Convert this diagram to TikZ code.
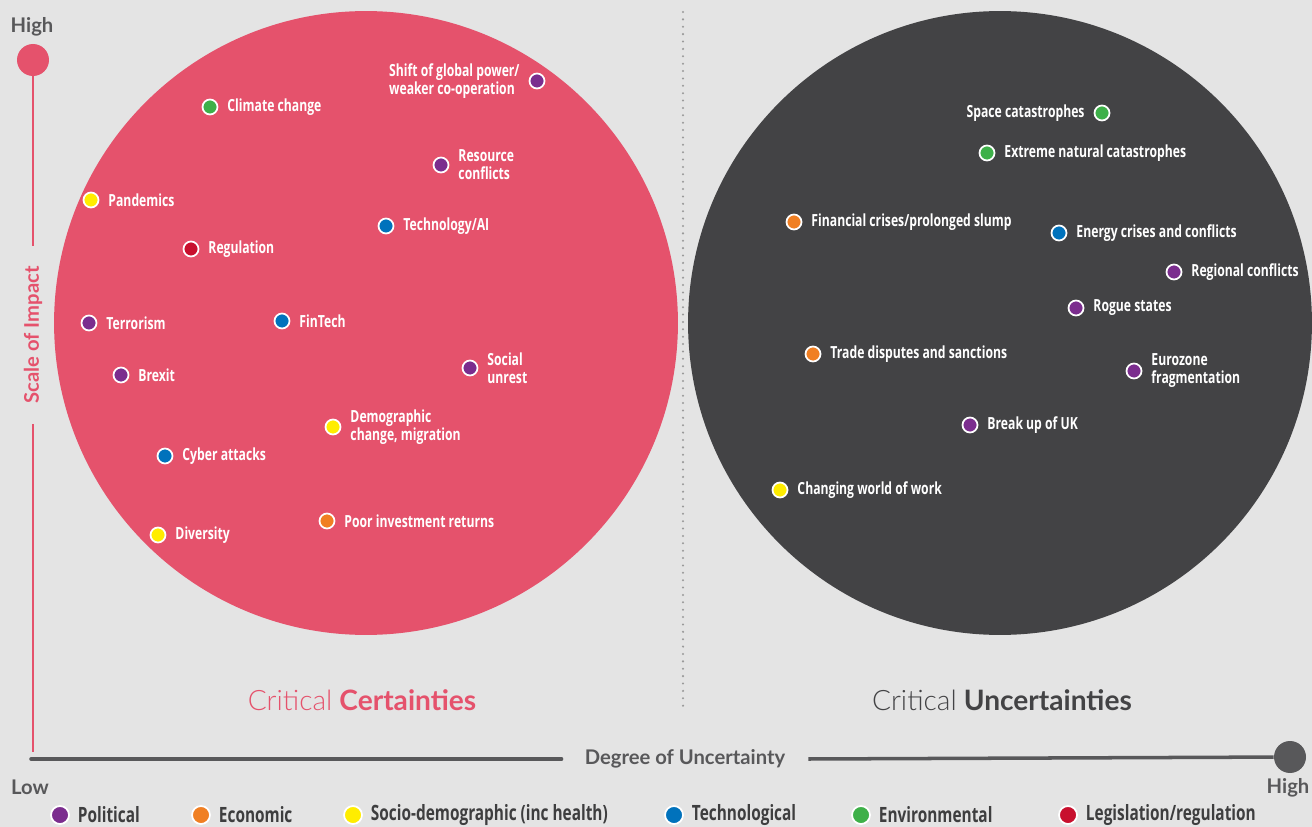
\documentclass[tikz,border=0pt]{standalone}
\usepackage{fontspec}
\setmainfont{Lato}
\newfontfamily\lightfont{Lato Light}
\newfontfamily\condfont{Open Sans}[FakeStretch=0.73]
\usetikzlibrary{positioning}

\definecolor{bgGrey}{HTML}{E4E4E4}
\definecolor{certRed}{HTML}{E5526C}
\definecolor{uncGrey}{HTML}{434345}
\definecolor{axisGrey}{HTML}{58585A}
\definecolor{sepGrey}{HTML}{9A9A9A}
\definecolor{polit}{HTML}{7B2D8E}
\definecolor{econ}{HTML}{F07F23}
\definecolor{socio}{HTML}{FFED00}
\definecolor{techn}{HTML}{0072BC}
\definecolor{envir}{HTML}{3EB049}
\definecolor{legis}{HTML}{C8102E}

\tikzset{
  zone/.style={circle, inner sep=0pt, minimum size=12.48cm, fill=#1},
  dot/.style={circle, draw=white, line width=1pt, fill=#1, inner sep=0pt, minimum size=3mm},
  keydot/.style={dot=#1, minimum size=3.6mm},
  lbl/.style={text=white, inner sep=1pt, align=left,
    font=\condfont\bfseries\fontsize{9.5}{10.2}\selectfont},
  keylbl/.style={text=axisGrey!70!black, inner sep=1pt,
    font=\condfont\bfseries\fontsize{12}{13}\selectfont},
  axislbl/.style={font=\bfseries\fontsize{11.5}{12}\selectfont, text=axisGrey, inner sep=1pt},
  axisend/.style={circle, inner sep=0pt, minimum size=6.4mm, fill=#1},
  head/.style={font=\fontsize{16}{18}\selectfont, text=#1}
}

\begin{document}
\begin{tikzpicture}[x=0.02cm, y=-0.02cm]
  \fill[bgGrey] (0,0) rectangle (1312,827);
  \useasboundingbox (0,0) rectangle (1312,827);

  % the two zones and the divider
  \node[zone=certRed] (certZone) at (366,323) {};
  \node[zone=uncGrey] (uncZone) at (1000,323) {};
  \draw[sepGrey, line width=1.3pt, line cap=round, dash pattern=on 0pt off 4.2pt] (683,12) -- (683,712);

  % vertical axis
  \node[axisend=certRed] (impHigh) at (33,60) {};
  \node[axislbl] (impTop) at (32,27) {High};
  \node[axislbl, text=certRed, rotate=90, inner xsep=4mm] (impLbl) at (33,335) {Scale of Impact};
  \coordinate (impLow) at (33,752);
  \draw[certRed, line width=1.7pt] (impHigh) -- (impLbl.east);
  \draw[certRed, line width=1.7pt] (impLbl.west) -- (impLow);

  % horizontal axis
  \coordinate (uncLow) at (31,759);
  \node[axislbl, inner xsep=4.6mm] (uncLbl) at (685,759) {Degree of Uncertainty};
  \node[axisend=axisGrey] (uncHigh) at (1290,757) {};
  \node[axislbl] (lowTxt) at (30,787) {Low};
  \node[axislbl] (highTxt) at (1288,788) {High};
  \draw[axisGrey, line width=2pt, line cap=round] (uncLow) -- (uncLbl.west);
  \draw[axisGrey, line width=2pt] (uncLbl.east) -- (uncHigh);

  % headings
  \node[head=certRed] (certHead) at (362,700) {{\lightfont Critical} \textbf{Certainties}};
  \node[head=uncGrey] (uncHead) at (1002,700) {{\lightfont Critical} \textbf{Uncertainties}};

  % critical certainties
  \node[dot=polit] (shift) at (537,81) {};
  \node[lbl, left=1.4mm of shift, align=left] {Shift of global power/\\weaker co-operation};
  \node[dot=envir] (climate) at (210,107) {};
  \node[lbl, right=1.4mm of climate] {Climate change};
  \node[dot=polit] (resource) at (441,165) {};
  \node[lbl, right=1.4mm of resource] {Resource\\conflicts};
  \node[dot=socio] (pandem) at (91,200) {};
  \node[lbl, right=1.4mm of pandem] {Pandemics};
  \node[dot=techn] (techai) at (386,226) {};
  \node[lbl, right=1.4mm of techai] {Technology/AI};
  \node[dot=legis] (regul) at (191,249) {};
  \node[lbl, right=1.4mm of regul] {Regulation};
  \node[dot=polit] (terror) at (89,323) {};
  \node[lbl, right=1.4mm of terror] {Terrorism};
  \node[dot=techn] (fintech) at (282,321) {};
  \node[lbl, right=1.4mm of fintech] {FinTech};
  \node[dot=polit] (brexit) at (121,375) {};
  \node[lbl, right=1.4mm of brexit] {Brexit};
  \node[dot=polit] (unrest) at (470,368) {};
  \node[lbl, right=1.4mm of unrest] {Social\\unrest};
  \node[dot=socio] (demog) at (333,427) {};
  \node[lbl, right=1.4mm of demog] {Demographic\\change, migration};
  \node[dot=techn] (cyber) at (165,456) {};
  \node[lbl, right=1.4mm of cyber] {Cyber attacks};
  \node[dot=econ] (invest) at (327,521) {};
  \node[lbl, right=1.4mm of invest] {Poor investment returns};
  \node[dot=socio] (divers) at (158,535) {};
  \node[lbl, right=1.4mm of divers] {Diversity};

  % critical uncertainties
  \node[dot=envir] (space) at (1102,113) {};
  \node[lbl, left=1.4mm of space] {Space catastrophes};
  \node[dot=envir] (natcat) at (987,153) {};
  \node[lbl, right=1.4mm of natcat] {Extreme natural catastrophes};
  \node[dot=econ] (fincris) at (794,222) {};
  \node[lbl, right=1.4mm of fincris] {Financial crises/prolonged slump};
  \node[dot=techn] (energy) at (1059,233) {};
  \node[lbl, right=1.4mm of energy] {Energy crises and conflicts};
  \node[dot=polit] (region) at (1174,272) {};
  \node[lbl, right=1.4mm of region] {Regional conflicts};
  \node[dot=polit] (rogue) at (1076,308) {};
  \node[lbl, right=1.4mm of rogue] {Rogue states};
  \node[dot=econ] (trade) at (813,354) {};
  \node[lbl, right=1.4mm of trade] {Trade disputes and sanctions};
  \node[dot=polit] (euro) at (1134,371) {};
  \node[lbl, right=1.4mm of euro] {Eurozone\\fragmentation};
  \node[dot=polit] (breakup) at (970,425) {};
  \node[lbl, right=1.4mm of breakup] {Break up of UK};
  \node[dot=socio] (work) at (780,490) {};
  \node[lbl, right=1.4mm of work] {Changing world of work};

  % key
  \node[keydot=polit] (kPol) at (60,815) {};
  \node[keylbl, right=1.2mm of kPol] {Political};
  \node[keydot=econ] (kEco) at (201,815) {};
  \node[keylbl, right=1.2mm of kEco] {Economic};
  \node[keydot=socio] (kSoc) at (353,815) {};
  \node[keylbl, right=1.2mm of kSoc] {Socio-demographic (inc health)};
  \node[keydot=techn] (kTec) at (674,815) {};
  \node[keylbl, right=1.2mm of kTec] {Technological};
  \node[keydot=envir] (kEnv) at (861,815) {};
  \node[keylbl, right=1.2mm of kEnv] {Environmental};
  \node[keydot=legis] (kLeg) at (1068,815) {};
  \node[keylbl, right=1.2mm of kLeg] {Legislation/regulation};
\end{tikzpicture}
\end{document}
